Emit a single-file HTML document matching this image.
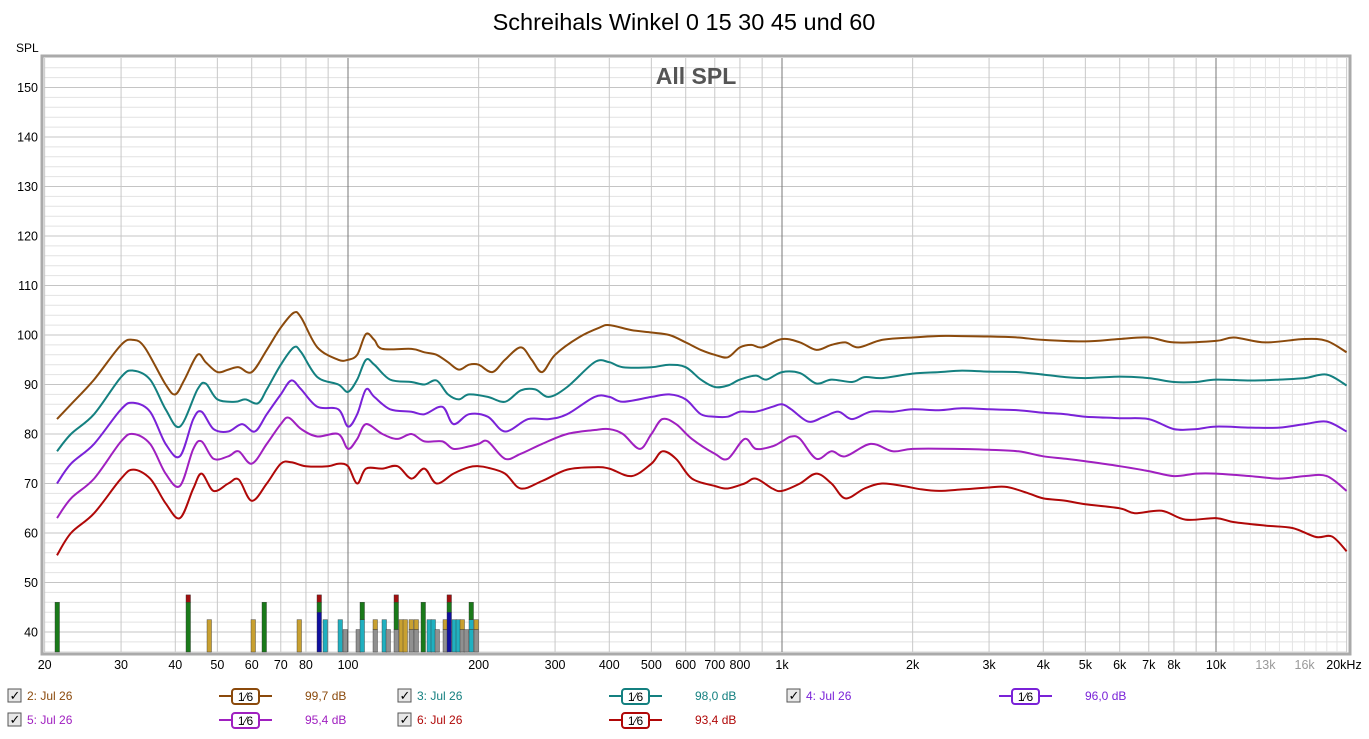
<!DOCTYPE html>
<html><head><meta charset="utf-8"><style>
body{margin:0;background:#fff;font-family:"Liberation Sans",sans-serif;}
</style></head><body>
<svg id="s" width="1369" height="734" xmlns="http://www.w3.org/2000/svg" font-family="Liberation Sans, sans-serif">
<text x="684" y="30" font-size="23.5" text-anchor="middle" fill="#000">Schreihals Winkel 0 15 30 45 und 60</text>
<text x="16" y="52" font-size="12" fill="#000">SPL</text>
<rect x="42" y="56" width="1308" height="598" fill="#fff" stroke="#aaa" stroke-width="3"/>
<g id="grid"></g>
<text x="696" y="84" font-size="23" font-weight="bold" fill="#555" text-anchor="middle">All SPL</text>
<g id="bars"></g>
<g id="curves" fill="none" stroke-width="2"></g>
<g id="lab" font-size="12.5"></g>
<g id="leg" font-size="12"></g>
</svg>
<script>
const NS="http://www.w3.org/2000/svg";
const X=f=>348+434*Math.log10(f/100);
const Y=d=>335-(d-100)*4.95;
const L=44,R=1347,T=58,B=652;
function el(p,t,a,txt){const e=document.createElementNS(NS,t);for(const k in a)e.setAttribute(k,a[k]);if(txt!==undefined)e.textContent=txt;p.appendChild(e);return e;}
const g=document.getElementById('grid');
for(let d=36;d<=156;d+=2){const y=Y(d);if(y<T||y>B)continue;el(g,'line',{x1:L,x2:R,y1:y,y2:y,stroke:d%10==0?'#c4c4c4':'#e2e2e2','stroke-width':1});}
for(let dec=10;dec<=10000;dec*=10)for(let m=1;m<=9;m++){const f=dec*m;if(f<20||f>20000)continue;const x=X(f);
 el(g,'line',{x1:x,x2:x,y1:T,y2:B,stroke:(m==1&&f>=100)?'#777':'#c8c8c8','stroke-width':1});}
for(let f=11000;f<20000;f+=1000){const x=X(f);el(g,'line',{x1:x,x2:x,y1:T,y2:B,stroke:'#e4e4e4'});}
const lab=document.getElementById('lab');
for(let d=40;d<=150;d+=10)el(lab,'text',{x:38,y:Y(d)+4.5,'text-anchor':'end',fill:'#000'},d);
const xl=[[20,'20'],[30,'30'],[40,'40'],[50,'50'],[60,'60'],[70,'70'],[80,'80'],[100,'100'],[200,'200'],[300,'300'],[400,'400'],[500,'500'],[600,'600'],[700,'700'],[800,'800'],[1000,'1k'],[2000,'2k'],[3000,'3k'],[4000,'4k'],[5000,'5k'],[6000,'6k'],[7000,'7k'],[8000,'8k'],[10000,'10k'],[13000,'13k'],[16000,'16k']];
xl.forEach(([f,t])=>el(lab,'text',{x:X(f),y:669,'text-anchor':'middle',fill:(f==13000||f==16000)?'#999':'#000'},t));
el(lab,'text',{x:1344,y:669,'text-anchor':'middle',fill:'#000'},'20kHz');
const bg=document.getElementById('bars');
function bar(x,segs){let prev=B;segs.forEach(([d,c])=>{const y=Y(d);el(bg,'rect',{x:x,y:y,width:4.5,height:prev-y,fill:c,stroke:'#333','stroke-width':0.4});prev=y;});}
const GR='#1a7a1a',TN='#c8a030',GY='#909090',CY='#20b0c0',BL='#1010a0',RD='#a01010';
bar(55,[[46,GR]]);bar(186,[[46,GR],[47.5,RD]]);bar(207,[[42.5,TN]]);bar(251,[[42.5,TN]]);bar(262,[[46,GR]]);bar(297,[[42.5,TN]]);
bar(317,[[44,BL],[46,GR],[47.5,RD]]);bar(323,[[42.5,CY]]);bar(338,[[42.5,CY]]);bar(343,[[40.5,GY]]);bar(356,[[40.5,GY]]);
bar(360,[[42.5,CY],[46,GR]]);bar(373,[[40.5,GY],[42.5,TN]]);bar(382,[[42.5,CY]]);bar(386,[[40.5,GY]]);bar(394,[[40.5,GY],[46,GR],[47.5,RD]]);
bar(399,[[42.5,TN]]);bar(403,[[42.5,TN]]);bar(409,[[40.5,GY],[42.5,TN]]);bar(414,[[40.5,GY],[42.5,TN]]);bar(421,[[46,GR]]);bar(427,[[42.5,CY]]);
bar(431,[[42.5,CY]]);bar(435,[[40.5,GY]]);bar(443,[[40.5,GY],[42.5,TN]]);bar(447,[[44,BL],[46,GR],[47.5,RD]]);bar(452,[[42.5,CY]]);
bar(456,[[42.5,CY]]);bar(460,[[40.5,GY],[42.5,TN]]);bar(464,[[40.5,GY]]);bar(469,[[40.5,CY],[42.5,CY],[46,GR]]);bar(474,[[40.5,GY],[42.5,TN]]);
const data={
'#8b4a0c':[[20,83],[23,86],[26,91],[30,98],[32,99],[34,97.5],[38,90],[40,88],[42,91],[45,96],[47,94.5],[50,92.5],[53,93],[56,93.5],[60,92.5],[65,97],[70,101.5],[75,104.5],[78,103.5],[85,97.5],[95,95],[100,95],[105,96],[110,100.2],[115,99],[120,97.2],[140,97.2],[150,96.5],[160,96],[170,94.5],[180,93],[190,94],[200,94],[215,92.5],[230,95],[250,97.5],[265,95],[280,92.5],[300,96],[340,99.5],[380,101.5],[400,102],[450,101],[500,100.5],[550,100],[600,98.5],[650,97],[700,96],[750,95.5],[800,97.5],[850,98],[900,97.5],[1000,99.2],[1100,98.5],[1200,97],[1300,98],[1400,98.5],[1500,97.5],[1700,99],[2000,99.5],[2300,99.8],[2500,99.8],[3000,99.7],[3500,99.5],[4000,99],[5000,98.7],[6000,99.2],[7000,99.5],[8000,98.5],[10000,98.8],[11000,99.5],[13000,98.5],[16000,99.2],[18000,98.8],[20000,96.5]],
'#148080':[[20,76.5],[23,80],[26,84],[30,91.5],[32,92.8],[35,91],[38,85],[41,81.5],[45,89],[47,90.2],[50,87],[55,86.5],[58,87],[62,86.2],[65,89],[70,94],[75,97.5],[78,96.5],[85,91.5],[95,90],[100,88.5],[105,91],[110,95],[115,94],[125,91],[140,90.5],[150,90],[160,90.8],[170,88],[180,87],[190,88],[210,87.5],[230,86.5],[250,88.8],[270,89],[290,87.5],[320,89.5],[370,94.5],[400,94.5],[430,93.5],[500,93.5],[550,94],[600,93.5],[650,91],[700,89.5],[750,89.8],[800,91],[870,91.8],[920,91],[1000,92.5],[1100,92.3],[1200,90.2],[1300,91],[1450,90.5],[1550,91.5],[1700,91.3],[2000,92.2],[2300,92.5],[2600,92.8],[3000,92.6],[3500,92.5],[4000,92],[4500,91.5],[5000,91.3],[6000,91.6],[7000,91.3],[8000,90.5],[9000,90.5],[10000,91],[12000,90.8],[14000,91],[16000,91.3],[18000,92],[20000,89.8]],
'#7a22d8':[[20,70],[23,74],[26,78],[30,85],[32,86.3],[35,84.5],[38,78],[41,75.5],[44,83],[46,84.5],[49,81],[53,80.5],[57,82],[61,80.5],[65,84],[70,88],[74,90.8],[78,89],[85,85.5],[95,85],[100,81.5],[105,84],[110,89],[115,87.5],[125,85],[140,84.5],[150,84],[165,85.5],[175,82],[190,84],[210,83.5],[230,80.5],[260,83],[290,83],[320,84],[370,87.5],[400,87.5],[430,86.5],[500,87.5],[550,88],[600,87],[650,84],[700,83.5],[750,83.5],[800,84.5],[870,84.5],[950,85.5],[1000,86],[1050,85],[1150,82.5],[1250,83.5],[1350,84.5],[1450,83],[1600,84.5],[1800,84.5],[2000,85],[2300,84.8],[2600,85.2],[3000,85],[3500,84.8],[4000,84.3],[4500,84],[5000,83.5],[6000,83.2],[7000,83],[8000,81],[9000,81],[10000,81.5],[12000,81.3],[14000,81.3],[16000,82],[18000,82.5],[20000,80.5]],
'#a020c0':[[20,63],[23,67],[26,71],[30,78.5],[32,80],[35,78],[38,72],[41,69.5],[44,77],[46,78.5],[49,75],[53,75.5],[56,76.5],[60,74],[65,78],[70,82],[73,83.3],[78,81],[85,79.5],[95,80],[100,77],[105,79],[110,82],[120,80],[130,79],[140,80],[150,78.5],[165,78.5],[175,77],[190,77.5],[200,78],[210,78.5],[230,75],[250,76],[280,78],[320,80],[370,80.8],[400,81],[430,80],[470,77],[500,80],[530,83],[570,82],[620,79],[700,76],[750,75],[820,79],[870,77],[950,77.5],[1000,78.5],[1050,79.5],[1100,79],[1200,75],[1300,76.5],[1400,75.5],[1600,78],[1800,76.5],[2000,77],[2500,77],[3000,76.8],[3500,76.5],[4000,75.5],[4500,75],[5000,74.5],[6000,73.5],[7000,72.5],[8000,71.5],[9000,72],[10000,72],[12000,71.5],[14000,71],[16000,71.5],[18000,71.5],[20000,68.5]],
'#b00808':[[20,55.5],[23,60],[26,64],[30,71],[32,72.8],[35,71],[38,66],[41,63],[44,69],[46,72],[49,68.5],[53,70],[56,70.8],[60,66.5],[65,70],[70,74],[74,74.3],[80,73.5],[90,73.5],[95,74],[100,73.5],[105,70],[110,73],[120,73],[130,73.5],[140,71],[150,73],[160,70],[175,72],[190,73.3],[200,73.5],[210,73.2],[230,72],[250,69],[280,70.5],[320,72.8],[370,73.3],[400,73],[450,71.5],[500,74],[530,76.5],[570,75],[620,71],[700,69.5],[750,69],[820,70],[870,71],[950,69],[1000,68.5],[1100,70],[1200,72],[1300,70],[1400,67],[1550,69],[1700,70],[1900,69.5],[2100,68.8],[2300,68.5],[2600,68.8],[3000,69.2],[3300,69.3],[3700,68],[4000,67],[4500,66.5],[5000,65.8],[6000,65],[6500,64],[7500,64.5],[8500,62.7],[10000,63],[11000,62.2],[13000,61.5],[15000,61],[17000,59.2],[18500,59.3],[20000,56.3]]};
const cg=document.getElementById('curves');
for(const c in data){const p=data[c].map(([f,d])=>[X(f),Y(d)]);p[0][0]=57;
 let s='M'+p[0][0].toFixed(1)+' '+p[0][1].toFixed(1);
 for(let i=0;i<p.length-1;i++){const a=p[Math.max(0,i-1)],b=p[i],q=p[i+1],d=p[Math.min(p.length-1,i+2)];
  s+=` C${(b[0]+(q[0]-a[0])/6).toFixed(1)} ${(b[1]+(q[1]-a[1])/6).toFixed(1)} ${(q[0]-(d[0]-b[0])/6).toFixed(1)} ${(q[1]-(d[1]-b[1])/6).toFixed(1)} ${q[0].toFixed(1)} ${q[1].toFixed(1)}`;}
 el(cg,'path',{d:s,stroke:c});}
const lg=document.getElementById('leg');
function item(cx,y,name,val,col,bx,vx){
 el(lg,'rect',{x:cx,y:y-11,width:13,height:13,fill:'#e8e8e8',stroke:'#555'});
 el(lg,'text',{x:cx+1.5,y:y,'font-size':13,fill:'#000'},'✓');
 el(lg,'text',{x:cx+19,y:y,fill:col},name);
 el(lg,'line',{x1:bx-13,x2:bx+40,y1:y-4,y2:y-4,stroke:col,'stroke-width':2});
 el(lg,'rect',{x:bx,y:y-11,width:27,height:15,rx:3,fill:'#fff',stroke:col,'stroke-width':2});
 el(lg,'text',{x:bx+13.5,y:y+1,'text-anchor':'middle',fill:'#000'},'1⁄6');
 el(lg,'text',{x:vx,y:y,fill:col},val);}
item(8,700,'2: Jul 26','99,7 dB','#8b4a0c',232,305);
item(398,700,'3: Jul 26','98,0 dB','#148080',622,695);
item(787,700,'4: Jul 26','96,0 dB','#7a22d8',1012,1085);
item(8,724,'5: Jul 26','95,4 dB','#a020c0',232,305);
item(398,724,'6: Jul 26','93,4 dB','#b00808',622,695);
</script>
</body></html>
